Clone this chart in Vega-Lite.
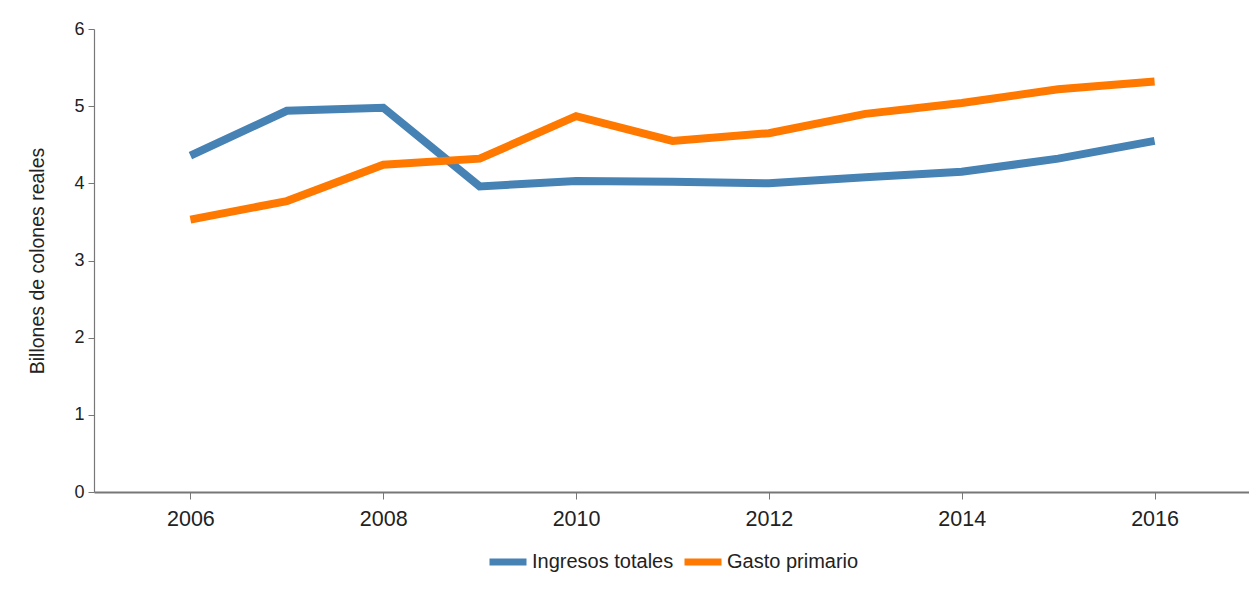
{
  "$schema": "https://vega.github.io/schema/vega-lite/v6.json",
  "autosize": "none",
  "width": 1157,
  "height": 463,
  "padding": {"left": 94, "top": 29, "right": 0, "bottom": 100},
  "background": "white",
  "config": {
    "view": {"stroke": null},
    "font": "Liberation Sans",
    "axis": {"grid": false, "domainColor": "#777777", "tickColor": "#777777", "labelColor": "#222222", "titleColor": "#222222", "labelFont": "Liberation Sans", "titleFont": "Liberation Sans"},
    "legend": {"layout": {"bottom": {"anchor": "middle"}}}
  },
  "data": {
    "values": [
      {"year": 2006, "serie": "Ingresos totales", "valor": 4.36},
      {"year": 2007, "serie": "Ingresos totales", "valor": 4.94},
      {"year": 2008, "serie": "Ingresos totales", "valor": 4.98},
      {"year": 2009, "serie": "Ingresos totales", "valor": 3.96},
      {"year": 2010, "serie": "Ingresos totales", "valor": 4.03},
      {"year": 2011, "serie": "Ingresos totales", "valor": 4.02},
      {"year": 2012, "serie": "Ingresos totales", "valor": 4.00},
      {"year": 2013, "serie": "Ingresos totales", "valor": 4.08},
      {"year": 2014, "serie": "Ingresos totales", "valor": 4.15},
      {"year": 2015, "serie": "Ingresos totales", "valor": 4.32},
      {"year": 2016, "serie": "Ingresos totales", "valor": 4.55},
      {"year": 2006, "serie": "Gasto primario", "valor": 3.53},
      {"year": 2007, "serie": "Gasto primario", "valor": 3.77},
      {"year": 2008, "serie": "Gasto primario", "valor": 4.24},
      {"year": 2009, "serie": "Gasto primario", "valor": 4.32},
      {"year": 2010, "serie": "Gasto primario", "valor": 4.87},
      {"year": 2011, "serie": "Gasto primario", "valor": 4.55},
      {"year": 2012, "serie": "Gasto primario", "valor": 4.65},
      {"year": 2013, "serie": "Gasto primario", "valor": 4.90},
      {"year": 2014, "serie": "Gasto primario", "valor": 5.04},
      {"year": 2015, "serie": "Gasto primario", "valor": 5.22},
      {"year": 2016, "serie": "Gasto primario", "valor": 5.32}
    ]
  },
  "mark": {"type": "line", "strokeWidth": 8, "strokeJoin": "miter", "strokeCap": "butt"},
  "encoding": {
    "x": {
      "field": "year", "type": "quantitative",
      "scale": {"domain": [2005, 2017], "nice": false, "zero": false},
      "axis": {"title": null, "values": [2006, 2008, 2010, 2012, 2014, 2016], "format": "d", "labelFontSize": 21.5, "tickSize": 7, "labelPadding": 9, "domainWidth": 2, "labelFlush": false}
    },
    "y": {
      "field": "valor", "type": "quantitative",
      "scale": {"domain": [0, 6], "nice": false},
      "axis": {"title": "Billones de colones reales", "titleFontSize": 19.5, "titleFontWeight": "normal", "titlePadding": 26, "values": [0, 1, 2, 3, 4, 5, 6], "labelFontSize": 18, "tickSize": 6, "labelPadding": 4, "domainWidth": 1.2}
    },
    "color": {
      "field": "serie", "type": "nominal",
      "scale": {"domain": ["Ingresos totales", "Gasto primario"], "range": ["#4682b4", "#ff7800"]},
      "legend": {"title": null, "orient": "bottom", "direction": "horizontal", "symbolType": "stroke", "symbolSize": 1369, "symbolStrokeWidth": 7, "labelFontSize": 20, "labelColor": "#222222", "labelFont": "Liberation Sans", "offset": 10, "columnPadding": -4, "labelOffset": 2}
    }
  }
}
